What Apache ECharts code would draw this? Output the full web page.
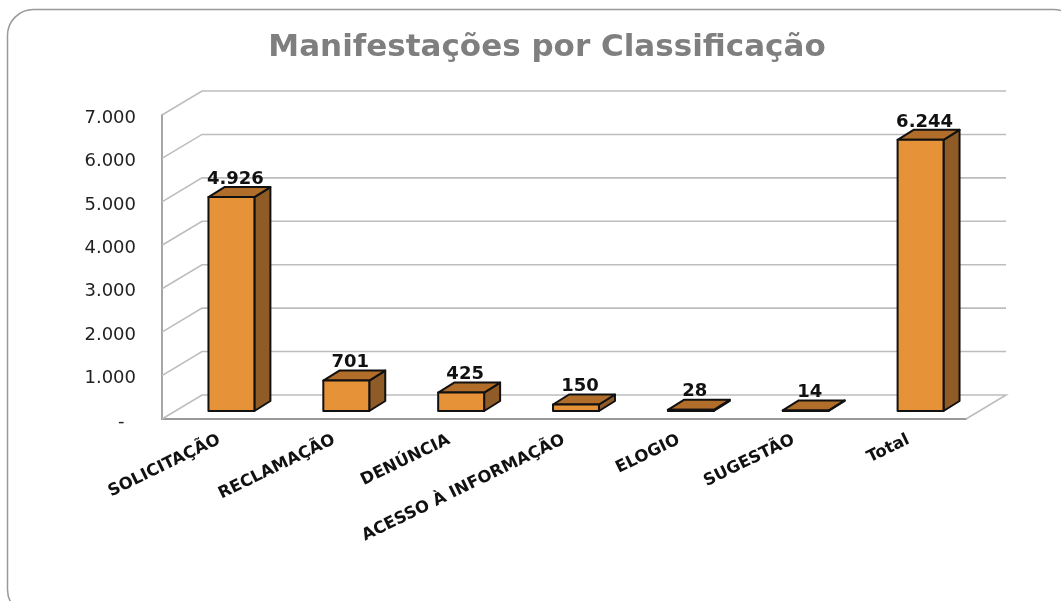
<!DOCTYPE html>
<html>
<head>
<meta charset="utf-8">
<script src="https://cdn.jsdelivr.net/npm/echarts@6/dist/echarts.min.js"></script>
<style>
  html, body { margin: 0; padding: 0; background: #fff; }
  #chart { width: 1061px; height: 601px; }
</style>
</head>
<body>
<div id="chart"></div>
<script>
const categories = ['SOLICITAÇÃO', 'RECLAMAÇÃO', 'DENÚNCIA', 'ACESSO À INFORMAÇÃO', 'ELOGIO', 'SUGESTÃO', 'Total'];
const values = [4926, 701, 425, 150, 28, 14, 6244];
const ticks = [0, 1000, 2000, 3000, 4000, 5000, 6000, 7000];

// 3d look: how far the back wall and the bars are pushed, in px
const WALL_DX = 40;
const WALL_DY = -24;
const BAR_DX = 12;
const BAR_DY = -8;
const DEPTH_DX = 16;
const DEPTH_DY = -10;

function dots(v) {
  return String(v).replace(/\B(?=(\d{3})+$)/g, '.');
}

function renderWall(params, api) {
  const sys = params.coordSys;
  const p = api.coord([0, api.value(0)]);
  const left = sys.x;
  const right = sys.x + sys.width;
  const style = { stroke: '#bdbdbd', lineWidth: 1.6, fill: null };
  const points = [[left, p[1]], [left + WALL_DX, p[1] + WALL_DY], [right + WALL_DX, p[1] + WALL_DY]];
  if (api.value(0) === 0) {
    points.push([right, p[1]]);
  }
  return { type: 'polyline', shape: { points: points }, style: style, silent: true };
}

function renderBar(params, api) {
  const top = api.coord([api.value(0), api.value(1)]);
  const base = api.coord([api.value(0), 0]);
  const w = api.size([1, 0])[0] * 0.4;
  const x0 = top[0] - w / 2 + BAR_DX;
  const x1 = x0 + w;
  const y0 = top[1] + BAR_DY;
  const y1 = base[1] + BAR_DY;
  const line = { stroke: '#111', lineWidth: 2, lineJoin: 'round' };
  return {
    type: 'group',
    children: [
      {
        type: 'polygon',
        shape: { points: [[x1, y0], [x1 + DEPTH_DX, y0 + DEPTH_DY], [x1 + DEPTH_DX, y1 + DEPTH_DY], [x1, y1]] },
        style: Object.assign({ fill: '#8f5b26' }, line)
      },
      {
        type: 'polygon',
        shape: { points: [[x0, y0], [x0 + DEPTH_DX, y0 + DEPTH_DY], [x1 + DEPTH_DX, y0 + DEPTH_DY], [x1, y0]] },
        style: Object.assign({ fill: '#b06e2a' }, line)
      },
      {
        type: 'rect',
        shape: { x: x0, y: y0, width: w, height: y1 - y0 },
        style: Object.assign({ fill: '#e69239' }, line)
      },
      {
        type: 'text',
        x: top[0] + BAR_DX + 4,
        y: y0 + DEPTH_DY + 1,
        style: {
          text: dots(api.value(1)),
          align: 'center',
          verticalAlign: 'bottom',
          font: 'bold 18px "DejaVu Sans"',
          fill: '#111'
        }
      }
    ]
  };
}

const chart = echarts.init(document.getElementById('chart'), null, { renderer: 'canvas' });
chart.setOption({
  animation: false,
  backgroundColor: '#fff',
  title: {
    text: 'Manifestações por Classificação',
    left: 542,
    top: 27,
    textAlign: 'center',
    textStyle: { fontFamily: 'DejaVu Sans', fontWeight: 'bold', fontSize: 31, color: '#7f7f7f' }
  },
  graphic: [{
    type: 'rect',
    silent: true,
    z: -1,
    shape: { x: 7.5, y: 9.5, width: 1072, height: 606, r: 26 },
    style: { fill: '#fff', stroke: '#999', lineWidth: 1.5 }
  }],
  grid: { left: 162, right: 95, top: 115, bottom: 182 },
  xAxis: {
    type: 'category',
    data: categories,
    axisTick: { show: false },
    axisLine: { lineStyle: { color: '#999', width: 2 } },
    axisLabel: {
      rotate: 26,
      interval: 0,
      margin: 20,
      color: '#111',
      fontFamily: 'DejaVu Sans',
      fontWeight: 'bold',
      fontSize: 16.5
    }
  },
  yAxis: {
    type: 'value',
    min: 0,
    max: 7000,
    interval: 1000,
    axisTick: { show: false },
    axisLine: { show: true, lineStyle: { color: '#a6a6a6', width: 2 } },
    splitLine: { show: false },
    axisLabel: {
      margin: 26,
      verticalAlign: 'top',
      lineHeight: 6,
      color: '#222',
      fontFamily: 'DejaVu Sans',
      fontSize: 18,
      formatter: v => (v === 0 ? '-  ' : dots(v))
    }
  },
  series: [
    {
      type: 'custom',
      coordinateSystem: 'cartesian2d',
      z: 1,
      silent: true,
      encode: { x: 1, y: 0 },
      data: ticks.map(t => [t, 0]),
      renderItem: renderWall
    },
    {
      type: 'custom',
      coordinateSystem: 'cartesian2d',
      z: 2,
      silent: true,
      encode: { x: 0, y: 1 },
      data: values.map((v, i) => [i, v]),
      renderItem: renderBar
    }
  ]
});
</script>
</body>
</html>
